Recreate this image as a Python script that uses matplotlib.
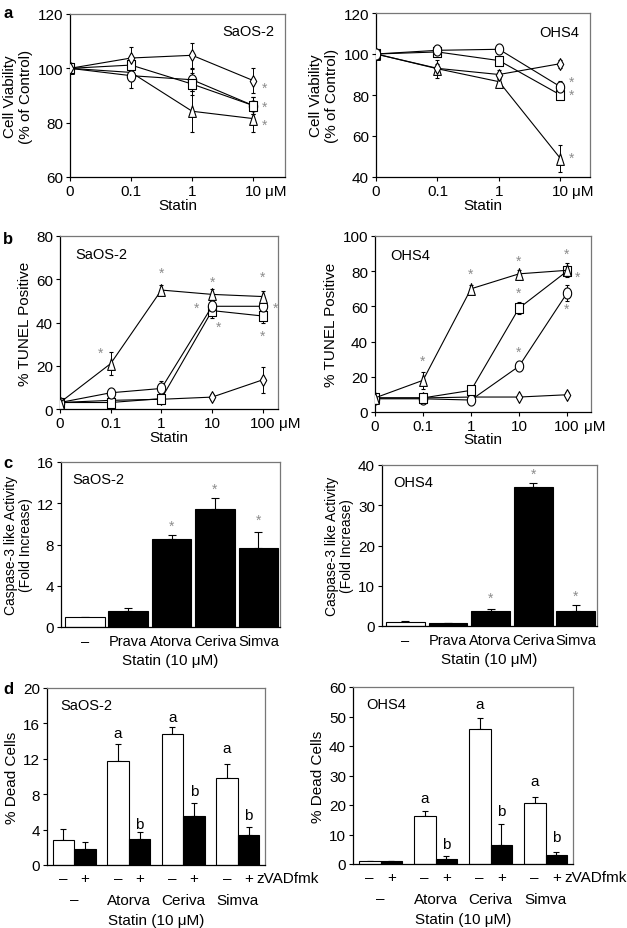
import numpy as np
import matplotlib
matplotlib.use("Agg")
import matplotlib.pyplot as plt

plt.rcParams['font.family'] = ['Liberation Sans', 'DejaVu Sans']
plt.rcParams['font.size'] = 11

W, H = 627, 929
GRAY = '#8c8c8c'
FS = 11

# ---- panel a: cell viability ----
a_ticks = ['0', '0.1', '1', '10']
a_saos = {
    'diamond': [100, 103.8, 104.8, 95.5],
    'square': [100, 101.2, 94.2, 86.3],
    'circle': [100, 97.3, 95.8, 86.3],
    'triangle': [100, 98.5, 84.2, 81.5],
}
a_saos_err = {
    'diamond': [0, 4.0, 4.5, 4.5],
    'square': [0, 3.0, 4.0, 3.0],
    'circle': [0, 4.5, 4.0, 3.0],
    'triangle': [0, 3.0, 7.5, 5.0],
}
a_saos_stars = [93.0, 86.0, 79.3]
a_ohs = {
    'diamond': [100, 93.0, 90.0, 95.3],
    'square': [100, 101.0, 96.8, 80.0],
    'circle': [100, 101.8, 102.3, 84.0],
    'triangle': [100, 92.8, 86.5, 49.0],
}
a_ohs_err = {
    'diamond': [0, 2.0, 2.0, 2.0],
    'square': [0, 1.5, 2.0, 1.5],
    'circle': [0, 1.5, 1.5, 3.0],
    'triangle': [0, 4.5, 2.0, 6.5],
}
a_ohs_stars = [86.5, 80.0, 49.5]

# ---- panel b: TUNEL ----
b_ticks = ['0', '0.1', '1', '10', '100']
b_saos = {
    'triangle': [3.0, 21.0, 55.0, 53.0, 52.0],
    'circle': [3.0, 7.5, 9.5, 47.5, 47.5],
    'square': [3.0, 3.0, 4.8, 45.5, 43.0],
    'diamond': [3.0, 4.0, 4.5, 5.5, 13.5],
}
b_saos_err = {
    'triangle': [1.5, 5.5, 2.5, 2.5, 2.5],
    'circle': [1.5, 1.5, 3.5, 3.0, 2.0],
    'square': [1.5, 1.0, 1.5, 3.5, 3.0],
    'diamond': [1.5, 1.0, 1.0, 1.5, 6.0],
}
b_saos_star_x = [0.8, 2, 3, 4, 2.7, 4.25, 3.12, 4.0]
b_saos_star_y = [26, 63, 59, 61, 47, 47, 38, 34]
b_ohs = {
    'triangle': [8.0, 18.0, 70.0, 78.5, 80.5],
    'square': [8.0, 8.0, 12.3, 59.0, 80.0],
    'circle': [7.5, 7.5, 6.8, 26.0, 67.5],
    'diamond': [8.0, 8.0, 8.5, 8.5, 9.8],
}
b_ohs_err = {
    'triangle': [1.0, 5.0, 2.0, 2.0, 4.0],
    'square': [1.0, 1.0, 1.5, 3.5, 2.5],
    'circle': [1.0, 1.0, 1.0, 1.5, 4.5],
    'diamond': [1.0, 1.0, 1.0, 1.0, 1.5],
}
b_ohs_star_x = [1, 2, 3, 3, 3, 4, 4.22, 4.0]
b_ohs_star_y = [29, 78.5, 86, 67.8, 34, 90, 77, 58.8]

# ---- panel c: caspase-3 ----
c_labels = ['–', 'Prava', 'Atorva', 'Ceriva', 'Simva']
c_saos = [1.0, 1.6, 8.5, 11.45, 7.65]
c_saos_err = [0.0, 0.2, 0.4, 1.05, 1.6]
c_saos_stars = [None, None, 9.8, 13.4, 10.4]
c_ohs = [1.0, 0.7, 3.8, 34.5, 3.7]
c_ohs_err = [0.2, 0.1, 0.4, 1.0, 1.5]
c_ohs_stars = [None, None, 6.9, 37.9, 7.5]

# ---- panel d: dead cells with/without zVADfmk ----
d_groups = ['–', 'Atorva', 'Ceriva', 'Simva']
d_saos_minus = [2.85, 11.7, 14.8, 9.8]
d_saos_minus_err = [1.2, 2.0, 0.8, 1.6]
d_saos_plus = [1.8, 2.95, 5.5, 3.35]
d_saos_plus_err = [0.8, 0.8, 1.45, 1.0]
d_ohs_minus = [0.9, 16.2, 45.6, 20.7]
d_ohs_minus_err = [0.2, 1.9, 3.8, 2.0]
d_ohs_plus = [0.9, 1.6, 6.6, 3.1]
d_ohs_plus_err = [0.1, 1.0, 7.0, 1.0]
d_saos_a = [None, 14.9, 16.7, 13.2]
d_saos_b = [None, 4.6, 8.4, 5.6]
d_ohs_a = [None, 22.4, 54.4, 28.3]
d_ohs_b = [None, 6.8, 18.1, 9.1]


def ellipse(rx, ry, n=40):
    t = np.linspace(0, 2 * np.pi, n)
    return list(zip(rx * np.cos(t), ry * np.sin(t)))


MARKERS = {
    'diamond': dict(marker=[(0, 1), (0.55, 0), (0, -1), (-0.55, 0), (0, 1)], ms=8.5),
    'square': dict(marker=[(-0.85, -1), (0.85, -1), (0.85, 1), (-0.85, 1), (-0.85, -1)], ms=6.5),
    'circle': dict(marker=ellipse(0.75, 1.0), ms=8),
    'triangle': dict(marker=[(0, 1), (0.65, -1), (-0.65, -1), (0, 1)], ms=8.5),
}


def make_ax(left, right, top, bottom):
    ax = plt.gcf().add_axes([left / W, 1 - bottom / H, (right - left) / W, (bottom - top) / H])
    for s in ['top', 'right']:
        ax.spines[s].set_color('#777777')
    for s in ax.spines.values():
        s.set_linewidth(0.9)
    ax.tick_params(axis='both', direction='out', length=3, width=0.8, labelsize=FS, pad=2)
    return ax


def line_panel(ax, data, err, order):
    for key in order:
        x = np.arange(len(data[key]))
        ax.errorbar(x, data[key], yerr=err[key], color='black', lw=0.8, elinewidth=0.7,
                    capsize=1.5, capthick=0.7, mfc='white', mec='black', mew=0.8,
                    zorder=3, **MARKERS[key])


def star(ax, x, y, size=10):
    ax.text(x, y, '*', color=GRAY, ha='center', va='center', fontsize=size)


def micro(ax, x, dx):
    ax.annotate('μM', xy=(x, 0), xycoords=('data', 'axes fraction'), xytext=(dx, -5),
                textcoords='offset points', ha='left', va='top', fontsize=FS)


fig = plt.figure(figsize=(W / 100, H / 100), dpi=100)

# ---------------- a ----------------
ax = make_ax(70, 285, 15, 178)
line_panel(ax, a_saos, a_saos_err, ['triangle', 'circle', 'square', 'diamond'])
for y in a_saos_stars:
    star(ax, 3.18, y)
ax.set_xlim(0, 3.52)
ax.set_ylim(60, 120)
ax.set_yticks([60, 80, 100, 120])
ax.set_xticks(range(4))
ax.set_xticklabels(a_ticks)
micro(ax, 3, 8.5)
ax.set_xlabel('Statin', fontsize=FS, labelpad=0)
ax.set_ylabel('Cell Viability\n(% of Control)', fontsize=FS, labelpad=3)
ax.text(0.95, 0.87, 'SaOS-2', transform=ax.transAxes, ha='right', fontsize=10.5)
fig.text(3 / W, 1 - 14 / H, 'a', fontsize=12, fontweight='bold', va='center')

ax = make_ax(376, 590, 14, 178)
line_panel(ax, a_ohs, a_ohs_err, ['triangle', 'diamond', 'square', 'circle'])
for y in a_ohs_stars:
    star(ax, 3.18, y)
ax.set_xlim(0, 3.48)
ax.set_ylim(40, 120)
ax.set_yticks([40, 60, 80, 100, 120])
ax.set_xticks(range(4))
ax.set_xticklabels(a_ticks)
micro(ax, 3, 8.5)
ax.set_xlabel('Statin', fontsize=FS, labelpad=0)
ax.set_ylabel('Cell Viability\n(% of Control)', fontsize=FS, labelpad=3)
ax.text(0.95, 0.86, 'OHS4', transform=ax.transAxes, ha='right', fontsize=10.5)

# ---------------- b ----------------
ax = make_ax(60, 278, 237, 410)
line_panel(ax, b_saos, b_saos_err, ['diamond', 'square', 'circle', 'triangle'])
for x, y in zip(b_saos_star_x, b_saos_star_y):
    star(ax, x, y)
ax.set_xlim(0, 4.3)
ax.set_ylim(0, 80)
ax.set_yticks([0, 20, 40, 60, 80])
ax.set_xticks(range(5))
ax.set_xticklabels(b_ticks)
micro(ax, 4, 12)
ax.set_xlabel('Statin', fontsize=FS, labelpad=0)
ax.set_ylabel('% TUNEL Positive', fontsize=FS, labelpad=3)
ax.text(0.07, 0.87, 'SaOS-2', transform=ax.transAxes, ha='left', fontsize=10.5)
fig.text(3 / W, 1 - 240 / H, 'b', fontsize=12, fontweight='bold', va='center')

ax = make_ax(375, 591, 237, 413)
line_panel(ax, b_ohs, b_ohs_err, ['diamond', 'circle', 'square', 'triangle'])
for x, y in zip(b_ohs_star_x, b_ohs_star_y):
    star(ax, x, y)
ax.set_xlim(0, 4.5)
ax.set_ylim(0, 100)
ax.set_yticks([0, 20, 40, 60, 80, 100])
ax.set_xticks(range(5))
ax.set_xticklabels(b_ticks)
micro(ax, 4, 12)
ax.set_xlabel('Statin', fontsize=FS, labelpad=-1)
ax.set_ylabel('% TUNEL Positive', fontsize=FS, labelpad=3)
ax.text(0.07, 0.87, 'OHS4', transform=ax.transAxes, ha='left', fontsize=10.5)


# ---------------- c ----------------
def caspase(ax, vals, errs, stars, ymax, yticks, star_size=10):
    x = np.arange(len(vals))
    colors = ['white'] + ['black'] * (len(vals) - 1)
    ax.bar(x, vals, width=0.91, color=colors, edgecolor='black', lw=0.8, zorder=2)
    ax.errorbar(x, vals, yerr=[np.zeros(len(errs)), errs], fmt='none', ecolor='black',
                elinewidth=0.8, capsize=3, capthick=0.8, zorder=1)
    for xi, s in zip(x, stars):
        if s is not None:
            star(ax, xi, s, star_size)
    ax.set_xlim(-0.55, 4.5)
    ax.set_ylim(0, ymax)
    ax.set_yticks(yticks)
    ax.set_xticks(x)
    ax.set_xticklabels(c_labels, fontsize=10.5)
    ax.tick_params(axis='x', length=0, pad=5)
    ax.set_xlabel('Statin (10 μM)', fontsize=FS, labelpad=4)
    ax.set_ylabel('Caspase-3 like Activity\n(Fold Increase)', fontsize=10, labelpad=3,
                  linespacing=1.1)


ax = make_ax(61, 280, 463, 628)
caspase(ax, c_saos, c_saos_err, c_saos_stars, 16, [0, 4, 8, 12, 16])
ax.text(0.05, 0.87, 'SaOS-2', transform=ax.transAxes, ha='left', fontsize=10.5)
fig.text(3 / W, 1 - 464 / H, 'c', fontsize=12, fontweight='bold', va='center')

ax = make_ax(382, 597, 466, 627)
caspase(ax, c_ohs, c_ohs_err, c_ohs_stars, 40, [0, 10, 20, 30, 40])
ax.text(0.05, 0.87, 'OHS4', transform=ax.transAxes, ha='left', fontsize=10.5)


# ---------------- d ----------------
def dead(ax, minus, minus_err, plus, plus_err, la, lb, ymax, yticks):
    x = np.arange(len(minus))
    w = 0.395
    ax.bar(x - w / 2, minus, width=w, color='white', edgecolor='black', lw=0.8, zorder=2)
    ax.bar(x + w / 2, plus, width=w, color='black', edgecolor='black', lw=0.8, zorder=2)
    ax.errorbar(x - w / 2, minus, yerr=[np.zeros(len(x)), minus_err], fmt='none',
                ecolor='black', elinewidth=0.8, capsize=2.5, capthick=0.8, zorder=1)
    ax.errorbar(x + w / 2, plus, yerr=[np.zeros(len(x)), plus_err], fmt='none',
                ecolor='black', elinewidth=0.8, capsize=2.5, capthick=0.8, zorder=1)
    for xi, ya, yb in zip(x, la, lb):
        if ya is not None:
            ax.text(xi - w / 2, ya, 'a', ha='center', va='center', fontsize=FS)
        if yb is not None:
            ax.text(xi + w / 2, yb, 'b', ha='center', va='center', fontsize=FS)
    ax.set_xlim(-0.5, 3.5)
    ax.set_ylim(0, ymax)
    ax.set_yticks(yticks)
    ax.set_xticks([])
    tr = ax.get_xaxis_transform()
    for xi, g in zip(x, d_groups):
        ax.text(xi - w / 2, -0.075, '–', transform=tr, ha='center', va='center', fontsize=FS)
        ax.text(xi + w / 2, -0.075, '+', transform=tr, ha='center', va='center', fontsize=FS)
        ax.text(xi, -0.195, g, transform=tr, ha='center', va='center', fontsize=FS)
    ax.text(3.34, -0.075, 'zVADfmk', transform=tr, ha='left', va='center', fontsize=FS)
    ax.text(1.5, -0.31, 'Statin (10 μM)', transform=tr, ha='center', va='center', fontsize=FS)
    ax.set_ylabel('% Dead Cells', fontsize=FS, labelpad=3)


ax = make_ax(47, 265, 689, 866)
dead(ax, d_saos_minus, d_saos_minus_err, d_saos_plus, d_saos_plus_err,
     d_saos_a, d_saos_b, 20, [0, 4, 8, 12, 16, 20])
ax.text(0.06, 0.88, 'SaOS-2', transform=ax.transAxes, ha='left', fontsize=10.5)
fig.text(3 / W, 1 - 690 / H, 'd', fontsize=12, fontweight='bold', va='center')

ax = make_ax(353, 573, 688, 865)
dead(ax, d_ohs_minus, d_ohs_minus_err, d_ohs_plus, d_ohs_plus_err,
     d_ohs_a, d_ohs_b, 60, [0, 10, 20, 30, 40, 50, 60])
ax.text(0.06, 0.88, 'OHS4', transform=ax.transAxes, ha='left', fontsize=10.5)

fig.savefig('out.png', dpi=100)
